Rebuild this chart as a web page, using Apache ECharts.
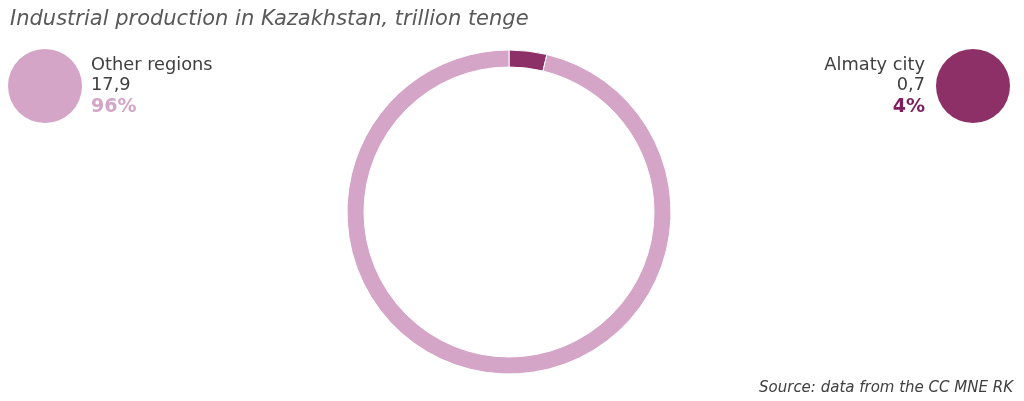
<!DOCTYPE html>
<html>
<head>
<meta charset="utf-8">
<script src="https://cdn.jsdelivr.net/npm/echarts@6/dist/echarts.min.js"></script>
<style>
html,body{margin:0;padding:0;background:#ffffff;}
#c{width:1024px;height:401px;}
</style>
</head>
<body>
<div id="c"></div>
<script>
var categories = ['Almaty city', 'Other regions'];
var values = [0.7, 17.9];
var valueLabels = ['0,7', '17,9'];
var percentLabels = ['4%', '96%'];
var colors = ['#8e3068', '#d4a5c6'];
var percentColors = ['#7d1f5c', '#d4a5c6'];
var titleText = 'Industrial production in Kazakhstan, trillion tenge';
var sourceText = 'Source: data from the CC MNE RK';

var font = '"DejaVu Sans", Verdana, sans-serif';
var chart = echarts.init(document.getElementById('c'));

function legendBlock(i, side) {
  var isLeft = side === 'left';
  var tx = isLeft ? 91 : 925;
  var align = isLeft ? 'left' : 'right';
  return [
    { type: 'circle', shape: { cx: isLeft ? 45 : 973, cy: 86, r: 37 }, style: { fill: colors[i] } },
    { type: 'text', style: { x: tx, y: 65, text: categories[i], fill: '#404040', font: '17.8px ' + font, textAlign: align, textVerticalAlign: 'middle' } },
    { type: 'text', style: { x: tx, y: 85, text: valueLabels[i], fill: '#404040', font: '17.8px ' + font, textAlign: align, textVerticalAlign: 'middle' } },
    { type: 'text', style: { x: tx, y: 107, text: percentLabels[i], fill: percentColors[i], font: 'bold 19px ' + font, textAlign: align, textVerticalAlign: 'middle' } }
  ];
}

chart.setOption({
  backgroundColor: '#ffffff',
  animation: false,
  title: {
    text: titleText,
    left: 5, top: 4,
    textStyle: { fontFamily: font, fontStyle: 'italic', fontWeight: 'normal', fontSize: 21, color: '#595959' }
  },
  graphic: legendBlock(1, 'left').concat(legendBlock(0, 'right')).concat([
    { type: 'text', style: { x: 1013, y: 388, text: sourceText, fill: '#404040', font: 'italic 15px ' + font, textAlign: 'right', textVerticalAlign: 'middle' } }
  ]),
  series: [{
    type: 'pie',
    center: [509, 212],
    radius: [145, 162],
    startAngle: 90,
    clockwise: true,
    label: { show: false },
    labelLine: { show: false },
    emphasis: { disabled: true },
    itemStyle: { borderColor: '#ffffff', borderWidth: 1 },
    data: categories.map(function (c, i) {
      return { name: c, value: values[i], itemStyle: { color: colors[i] } };
    })
  }]
});
</script>
</body>
</html>
